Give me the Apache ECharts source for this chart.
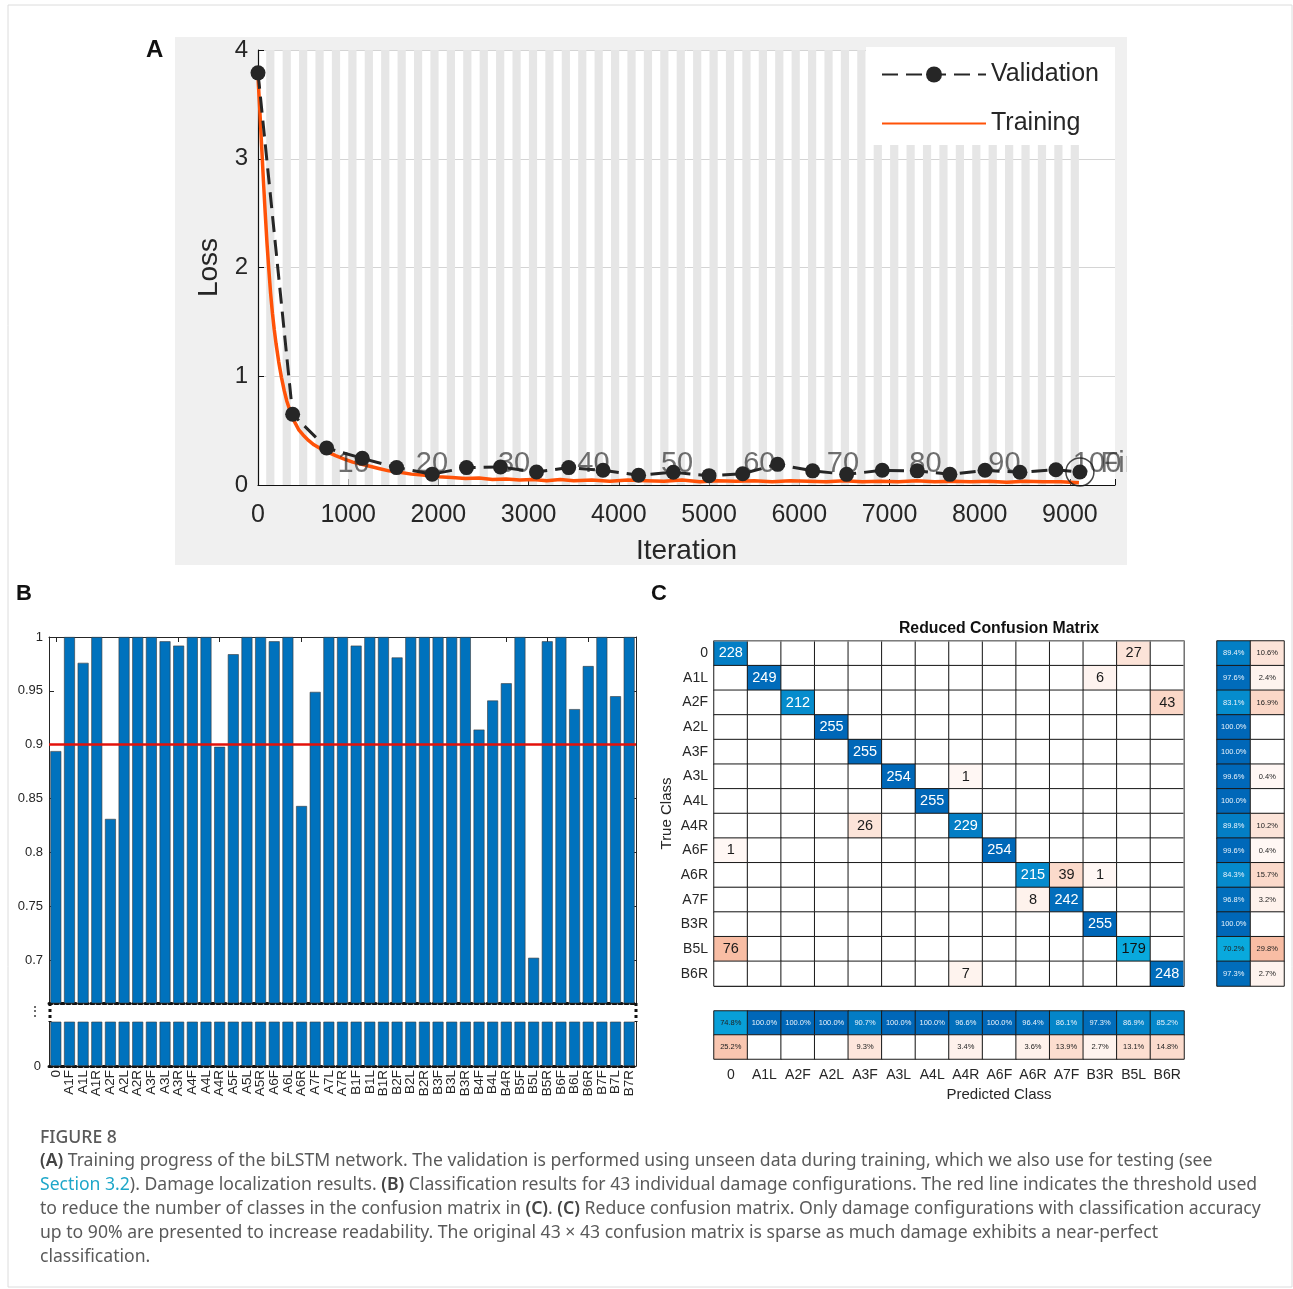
<!DOCTYPE html>
<html>
<head>
<meta charset="utf-8">
<script src="https://cdn.jsdelivr.net/npm/echarts@6/dist/echarts.min.js"></script>
<style>
html, body { margin: 0; padding: 0; background: #fff; }
#chart { width: 1293px; height: 1289px; }
</style>
</head>
<body>
<div id="chart"></div>
<script>
// ---- A: training progress
const valIter = [0, 384, 761, 1156, 1536, 1931, 2311, 2688, 3087, 3444, 3825, 4219, 4604, 5000, 5373, 5760, 6148, 6525, 6920, 7308, 7670, 8059, 8446, 8845, 9111];
const valLoss = [3.79, 0.65, 0.34, 0.245, 0.16, 0.10, 0.16, 0.165, 0.12, 0.16, 0.135, 0.09, 0.117, 0.086, 0.104, 0.19, 0.13, 0.098, 0.135, 0.13, 0.098, 0.135, 0.117, 0.14, 0.12];
const trainIter = [0, 20, 40, 60, 80, 100, 120, 140, 160, 180, 200, 230, 260, 290, 320, 360, 400, 450, 500, 560, 620, 700, 780, 860, 950, 1050, 1150, 1250, 1350, 1450, 1550, 1700, 1850, 2000, 2150, 2300, 2450, 2600, 2750, 2900, 3050, 3200, 3350, 3500, 3700, 3900, 4100, 4300, 4500, 4700, 4900, 5100, 5300, 5500, 5700, 5900, 6100, 6300, 6500, 6700, 6900, 7100, 7300, 7500, 7700, 7900, 8100, 8300, 8500, 8700, 8900, 9100];
const trainLoss = [3.75, 3.45, 3.12, 2.8, 2.5, 2.22, 1.98, 1.76, 1.58, 1.43, 1.3, 1.13, 0.99, 0.87, 0.77, 0.67, 0.59, 0.51, 0.46, 0.41, 0.37, 0.33, 0.3, 0.27, 0.24, 0.21, 0.19, 0.17, 0.15, 0.13, 0.12, 0.1, 0.09, 0.075, 0.07, 0.06, 0.065, 0.05, 0.055, 0.045, 0.05, 0.04, 0.05, 0.04, 0.045, 0.035, 0.045, 0.04, 0.035, 0.045, 0.03, 0.04, 0.035, 0.04, 0.03, 0.04, 0.035, 0.03, 0.04, 0.03, 0.035, 0.03, 0.04, 0.03, 0.035, 0.03, 0.035, 0.025, 0.035, 0.03, 0.03, 0.02];
const itersPerEpoch = 91;
const numEpochs = 100;
const epochLabelIter = [880, 1750, 2660, 3540, 4467, 5379, 6306, 7220, 8095, 9033, 9340];
const epochLabelText = ['10', '20', '30', '40', '50', '60', '70', '80', '90', '100', 'Final'];

// ---- B: per-class accuracy
const classNames = ['0', 'A1F', 'A1L', 'A1R', 'A2F', 'A2L', 'A2R', 'A3F', 'A3L', 'A3R', 'A4F', 'A4L', 'A4R', 'A5F', 'A5L', 'A5R', 'A6F', 'A6L', 'A6R', 'A7F', 'A7L', 'A7R', 'B1F', 'B1L', 'B1R', 'B2F', 'B2L', 'B2R', 'B3F', 'B3L', 'B3R', 'B4F', 'B4L', 'B4R', 'B5F', 'B5L', 'B5R', 'B6F', 'B6L', 'B6R', 'B7F', 'B7L', 'B7R'];
const classAcc = [0.894, 1, 0.976, 1, 0.831, 1, 1, 1, 0.996, 0.992, 1, 1, 0.898, 0.984, 1, 1, 0.996, 1, 0.843, 0.949, 1, 1, 0.992, 1, 1, 0.981, 1, 1, 1, 1, 1, 0.914, 0.941, 0.957, 1, 0.702, 0.996, 1, 0.933, 0.973, 1, 0.945, 1];
const threshold = 0.9;
const accTicks = [0.7, 0.75, 0.8, 0.85, 0.9, 0.95, 1];

// ---- C: reduced confusion matrix
const cmClasses = ['0', 'A1L', 'A2F', 'A2L', 'A3F', 'A3L', 'A4L', 'A4R', 'A6F', 'A6R', 'A7F', 'B3R', 'B5L', 'B6R'];
const cmCounts = [
  [228, 0, 0, 0, 0, 0, 0, 0, 0, 0, 0, 0, 27, 0],
  [0, 249, 0, 0, 0, 0, 0, 0, 0, 0, 0, 6, 0, 0],
  [0, 0, 212, 0, 0, 0, 0, 0, 0, 0, 0, 0, 0, 43],
  [0, 0, 0, 255, 0, 0, 0, 0, 0, 0, 0, 0, 0, 0],
  [0, 0, 0, 0, 255, 0, 0, 0, 0, 0, 0, 0, 0, 0],
  [0, 0, 0, 0, 0, 254, 0, 1, 0, 0, 0, 0, 0, 0],
  [0, 0, 0, 0, 0, 0, 255, 0, 0, 0, 0, 0, 0, 0],
  [0, 0, 0, 0, 26, 0, 0, 229, 0, 0, 0, 0, 0, 0],
  [1, 0, 0, 0, 0, 0, 0, 0, 254, 0, 0, 0, 0, 0],
  [0, 0, 0, 0, 0, 0, 0, 0, 0, 215, 39, 1, 0, 0],
  [0, 0, 0, 0, 0, 0, 0, 0, 0, 8, 242, 0, 0, 0],
  [0, 0, 0, 0, 0, 0, 0, 0, 0, 0, 0, 255, 0, 0],
  [76, 0, 0, 0, 0, 0, 0, 0, 0, 0, 0, 0, 179, 0],
  [0, 0, 0, 0, 0, 0, 0, 7, 0, 0, 0, 0, 0, 248]
];
const rowCorrect = [89.4, 97.6, 83.1, 100, 100, 99.6, 100, 89.8, 99.6, 84.3, 96.8, 100, 70.2, 97.3];
const rowWrong = [10.6, 2.4, 16.9, 0, 0, 0.4, 0, 10.2, 0.4, 15.7, 3.2, 0, 29.8, 2.7];
const colCorrect = [74.8, 100, 100, 100, 90.7, 100, 100, 96.6, 100, 96.4, 86.1, 97.3, 86.9, 85.2];
const colWrong = [25.2, 0, 0, 0, 9.3, 0, 0, 3.4, 0, 3.6, 13.9, 2.7, 13.1, 14.8];

const FONT = '"Liberation Sans", Arial, sans-serif';
const INK = '#262626';

// colour helpers (matlab-like blue / salmon ramps)
function hex2rgb(h) { return [1, 3, 5].map(i => parseInt(h.slice(i, i + 2), 16)); }
function mix(a, b, t) {
  t = Math.max(0, Math.min(1, t));
  const A = hex2rgb(a), B = hex2rgb(b);
  return 'rgb(' + A.map((v, i) => Math.round(v + (B[i] - v) * t)).join(',') + ')';
}
function blueOf(frac) { return mix('#0aaee0', '#0067b8', (frac - 0.68) / 0.32); }
function pinkOf(frac) { return mix('#fff8f5', '#f7b99e', frac / 0.32); }

const chart = echarts.init(document.getElementById('chart'));

// stripes for alternate epochs
const stripes = [];
for (let e = 1; e < numEpochs; e += 2) {
  stripes.push([{ xAxis: e * itersPerEpoch }, { xAxis: (e + 1) * itersPerEpoch }]);
}

// confusion matrix cells
const cmData = [];
cmCounts.forEach((row, r) => {
  const total = row.reduce((s, v) => s + v, 0);
  row.forEach((v, c) => {
    const frac = v / total;
    let color = '#fff', txt = '#1a1a1a';
    if (v > 0 && r === c) {
      color = blueOf(frac);
      txt = frac < 0.75 ? '#111' : '#fff';
    } else if (v > 0) {
      color = pinkOf(frac);
    }
    cmData.push({ value: [c, r, v], itemStyle: { color: color }, label: { color: txt } });
  });
});

function summaryCell(x, y, p, good) {
  let color = '#fff', txt = '#222';
  if (p > 0) {
    if (good) {
      color = blueOf(p / 100);
      txt = p < 76 ? '#222' : '#e8f2fa';
    } else {
      color = pinkOf(p / 100);
    }
  }
  return { value: [x, y, p], itemStyle: { color: color }, label: { color: txt } };
}
const rowSumData = [];
const colSumData = [];
cmClasses.forEach((n, i) => {
  rowSumData.push(summaryCell(0, i, rowCorrect[i], true));
  rowSumData.push(summaryCell(1, i, rowWrong[i], false));
  colSumData.push(summaryCell(i, 0, colCorrect[i], true));
  colSumData.push(summaryCell(i, 1, colWrong[i], false));
});
const pctFmt = p => (p.value[2] > 0 ? p.value[2].toFixed(1) + '%' : '');

const dotted = { show: true, lineStyle: { color: '#111', width: 3, type: [3, 3] } };
const solid = { show: true, lineStyle: { color: INK, width: 1 } };

const caption = [
  '{b|(A)} Training progress of the biLSTM network. The validation is performed using unseen data during training, which we also use for testing (see',
  '{l|Section 3.2}). Damage localization results. {b|(B)} Classification results for 43 individual damage configurations. The red line indicates the threshold used',
  'to reduce the number of classes in the confusion matrix in {b|(C)}. {b|(C)} Reduce confusion matrix. Only damage configurations with classification accuracy',
  'up to 90% are presented to increase readability. The original 43 × 43 confusion matrix is sparse as much damage exhibits a near-perfect',
  'classification.'
];
const captionFont = '17.6px "Noto Sans", sans-serif';
const captionEls = caption.map((t, i) => ({
  type: 'text', x: 40, y: 1161 + i * 24, z: 10,
  style: {
    text: t, font: captionFont, fill: '#5a5a5a', verticalAlign: 'middle',
    rich: {
      b: { font: '600 17.6px "Noto Sans", sans-serif', fill: '#444' },
      l: { font: captionFont, fill: '#1ea7c9' }
    }
  }
}));

const option = {
  animation: false,
  textStyle: { fontFamily: FONT },
  graphic: [
    { type: 'rect', z: -20, shape: { x: 8, y: 5, width: 1284, height: 1282 }, style: { fill: '#fff', stroke: '#dcdcdc', lineWidth: 1 } },
    { type: 'rect', z: -10, shape: { x: 175, y: 37, width: 952, height: 528 }, style: { fill: '#f0f0f0' } },
    { type: 'rect', z: 3, shape: { x: 866, y: 47, width: 249, height: 98 }, style: { fill: '#fff' } },
    { type: 'rect', z: 100, shape: { x: 1127, y: 430, width: 40, height: 70 }, style: { fill: '#fff' } },
    { type: 'text', x: 146, y: 50, z: 10, style: { text: 'A', font: 'bold 24px ' + FONT, fill: '#111', verticalAlign: 'middle' } },
    { type: 'text', x: 16, y: 594, z: 10, style: { text: 'B', font: 'bold 22px ' + FONT, fill: '#111', verticalAlign: 'middle' } },
    { type: 'text', x: 651, y: 594, z: 10, style: { text: 'C', font: 'bold 22px ' + FONT, fill: '#111', verticalAlign: 'middle' } },
    { type: 'text', x: 35, y: 1012, z: 10, style: { text: '⋮', font: '14px ' + FONT, fill: '#333', align: 'center', verticalAlign: 'middle' } },
    { type: 'line', z: 10, shape: { x1: 50, y1: 1003, x2: 50, y2: 1022 }, style: { stroke: '#111', lineWidth: 3, lineDash: [3, 3] } },
    { type: 'line', z: 10, shape: { x1: 636, y1: 1003, x2: 636, y2: 1022 }, style: { stroke: '#111', lineWidth: 3, lineDash: [3, 3] } },
    { type: 'polyline', z: 10, shape: { points: [[714, 641], [1184, 641], [1184, 986]] }, style: { stroke: '#a8a8a8', lineWidth: 1.2, fill: null } },
    { type: 'text', x: 999, y: 629, z: 10, style: { text: 'Reduced Confusion Matrix', font: 'bold 15.8px ' + FONT, fill: '#111', align: 'center', verticalAlign: 'middle' } },
    { type: 'text', x: 999, y: 1095, z: 10, style: { text: 'Predicted Class', font: '15px ' + FONT, fill: INK, align: 'center', verticalAlign: 'middle' } },
    { type: 'text', x: 40, y: 1138, z: 10, style: { text: 'FIGURE 8', font: '500 17.6px "Noto Sans", sans-serif', fill: '#5a5a5a', verticalAlign: 'middle' } }
  ].concat(captionEls),
  legend: {
    data: ['Validation', { name: 'Training', itemStyle: { opacity: 0 } }],
    orient: 'vertical',
    left: 876, top: 57,
    itemWidth: 104, itemHeight: 20, itemGap: 24,
    textStyle: { fontSize: 25, color: INK, fontFamily: FONT }
  },
  grid: [
    { left: 258, top: 50, width: 857, height: 435, show: true, backgroundColor: '#fff', borderWidth: 0 },
    { left: 49, top: 637, width: 587, height: 366 },
    { left: 49, top: 1022, width: 587, height: 44 },
    { left: 714, top: 641, width: 470, height: 345 },
    { left: 1217, top: 641, width: 67, height: 345 },
    { left: 714, top: 1011, width: 470, height: 48 }
  ],
  xAxis: [
    {
      gridIndex: 0, type: 'value', min: 0, max: 9500, interval: 1000,
      name: 'Iteration', nameLocation: 'middle', nameGap: 52,
      nameTextStyle: { fontSize: 28, color: INK },
      axisLine: { show: true, lineStyle: { color: '#111', width: 1.2 } },
      axisTick: { show: true, inside: true, length: 6, lineStyle: { color: '#111' } },
      axisLabel: { fontSize: 25, color: INK, margin: 18, formatter: v => (v > 9000 ? '' : v) },
      splitLine: { show: false }
    },
    {
      gridIndex: 1, type: 'category', data: classNames, position: 'bottom',
      axisLine: dotted, axisTick: { show: false }, axisLabel: { show: false }
    },
    {
      gridIndex: 1, type: 'category', data: classNames, position: 'top',
      axisLine: solid, axisTick: { show: true, inside: true, alignWithLabel: true, length: 5, lineStyle: { color: INK } },
      axisLabel: { show: false }
    },
    {
      gridIndex: 2, type: 'category', data: classNames, position: 'bottom',
      axisLine: solid, axisTick: { show: true, inside: true, alignWithLabel: true, length: 5, lineStyle: { color: INK } },
      axisLabel: { rotate: 90, fontSize: 13.5, color: INK, margin: 4, interval: 0 }
    },
    {
      gridIndex: 2, type: 'category', data: classNames, position: 'top',
      axisLine: dotted, axisTick: { show: false }, axisLabel: { show: false }
    },
    {
      gridIndex: 3, type: 'category', data: cmClasses,
      axisLine: { show: false }, axisTick: { show: false }, axisLabel: { show: false },
      splitLine: { show: true, lineStyle: { color: '#1a1a1a', width: 1 } }
    },
    {
      gridIndex: 4, type: 'category', data: ['correct', 'wrong'],
      axisLine: { show: false }, axisTick: { show: false }, axisLabel: { show: false }
    },
    {
      gridIndex: 5, type: 'category', data: cmClasses,
      axisLine: { show: false }, axisTick: { show: false },
      axisLabel: { fontSize: 14, color: INK, margin: 9, interval: 0 }
    }
  ],
  yAxis: [
    {
      gridIndex: 0, type: 'value', min: 0, max: 4, interval: 1,
      name: 'Loss', nameLocation: 'middle', nameGap: 34, nameRotate: 90,
      nameTextStyle: { fontSize: 28, color: INK },
      axisLine: { show: true, lineStyle: { color: '#111', width: 1.2 } },
      axisTick: { show: true, inside: true, length: 6, lineStyle: { color: '#111' } },
      axisLabel: { fontSize: 24, color: INK, margin: 10 },
      splitLine: { show: true, lineStyle: { color: '#d4d4d4', width: 1 } }
    },
    {
      gridIndex: 1, type: 'value', min: 0.66, max: 1, position: 'left',
      axisLine: solid,
      axisTick: { show: true, inside: true, length: 5, customValues: accTicks, lineStyle: { color: INK } },
      axisLabel: { fontSize: 13, color: INK, margin: 6, customValues: accTicks },
      splitLine: { show: false }
    },
    {
      gridIndex: 1, type: 'value', min: 0.66, max: 1, position: 'right',
      axisLine: solid,
      axisTick: { show: true, inside: true, length: 5, customValues: accTicks, lineStyle: { color: INK } },
      axisLabel: { show: false }, splitLine: { show: false }
    },
    {
      gridIndex: 2, type: 'value', min: 0, max: 0.04, position: 'left',
      axisLine: solid,
      axisTick: { show: false },
      axisLabel: { fontSize: 13, color: INK, margin: 8, customValues: [0] },
      splitLine: { show: false }
    },
    {
      gridIndex: 2, type: 'value', min: 0, max: 0.04, position: 'right',
      axisLine: solid, axisTick: { show: false }, axisLabel: { show: false }, splitLine: { show: false }
    },
    {
      gridIndex: 3, type: 'category', data: cmClasses, inverse: true,
      name: 'True Class', nameLocation: 'middle', nameGap: 40, nameRotate: 90,
      nameTextStyle: { fontSize: 15, color: INK },
      axisLine: { show: false }, axisTick: { show: false },
      axisLabel: { fontSize: 14, color: INK, margin: 6, interval: 0 },
      splitLine: { show: true, lineStyle: { color: '#1a1a1a', width: 1 } }
    },
    {
      gridIndex: 4, type: 'category', data: cmClasses, inverse: true,
      axisLine: { show: false }, axisTick: { show: false }, axisLabel: { show: false }
    },
    {
      gridIndex: 5, type: 'category', data: ['correct', 'wrong'], inverse: true,
      axisLine: { show: false }, axisTick: { show: false }, axisLabel: { show: false }
    }
  ],
  series: [
    {
      name: 'Training', type: 'line', xAxisIndex: 0, yAxisIndex: 0, z: 3,
      data: trainIter.map((x, i) => [x, trainLoss[i]]),
      symbol: 'none', color: '#ff5208',
      lineStyle: { color: '#ff5208', width: 3.5 },
      markArea: { silent: true, z: 1, itemStyle: { color: '#e6e6e6' }, data: stripes }
    },
    {
      name: 'Validation', type: 'line', xAxisIndex: 0, yAxisIndex: 0, z: 6,
      data: valIter.map((x, i) => [x, valLoss[i]]),
      symbol: 'circle', symbolSize: 15, color: '#262626',
      itemStyle: { color: '#262626' },
      lineStyle: { color: '#262626', width: 3, type: [16, 8] }
    },
    {
      name: 'epochs', type: 'scatter', xAxisIndex: 0, yAxisIndex: 0, z: 4,
      data: epochLabelIter.map((x, i) => [x, 0.19]),
      symbolSize: 0, silent: true,
      label: {
        show: true, position: 'right', distance: 0,
        formatter: p => epochLabelText[p.dataIndex],
        fontSize: 29, color: 'rgba(45,45,45,0.85)', fontFamily: FONT
      }
    },
    {
      name: 'final', type: 'scatter', xAxisIndex: 0, yAxisIndex: 0, z: 7,
      data: [[valIter[valIter.length - 1], valLoss[valLoss.length - 1]]],
      symbolSize: 28, silent: true,
      itemStyle: { color: 'rgba(0,0,0,0)', borderColor: '#1a1a1a', borderWidth: 1.5 }
    },
    {
      name: 'acc', type: 'bar', xAxisIndex: 1, yAxisIndex: 1, data: classAcc,
      barWidth: '80%', clip: true,
      itemStyle: { color: '#0072bd', borderColor: '#3a3a3a', borderWidth: 0.6 },
      markLine: {
        silent: true, symbol: 'none', label: { show: false },
        lineStyle: { color: '#e3120b', width: 2.5, type: 'solid' },
        data: [{ yAxis: threshold }]
      }
    },
    {
      name: 'accLow', type: 'bar', xAxisIndex: 3, yAxisIndex: 3, data: classAcc,
      barWidth: '80%', clip: true,
      itemStyle: { color: '#0072bd', borderColor: '#3a3a3a', borderWidth: 0.6 }
    },
    {
      name: 'cm', type: 'heatmap', xAxisIndex: 5, yAxisIndex: 5, data: cmData,
      itemStyle: { borderColor: '#1a1a1a', borderWidth: 1 },
      label: { show: true, fontSize: 14.5, fontFamily: FONT, formatter: p => (p.value[2] > 0 ? p.value[2] : '') },
      emphasis: { disabled: true }
    },
    {
      name: 'rowSum', type: 'heatmap', xAxisIndex: 6, yAxisIndex: 6, data: rowSumData,
      itemStyle: { borderColor: '#1a1a1a', borderWidth: 1 },
      label: { show: true, fontSize: 7.5, fontFamily: FONT, formatter: pctFmt },
      emphasis: { disabled: true }
    },
    {
      name: 'colSum', type: 'heatmap', xAxisIndex: 7, yAxisIndex: 7, data: colSumData,
      itemStyle: { borderColor: '#1a1a1a', borderWidth: 1 },
      label: { show: true, fontSize: 7.5, fontFamily: FONT, formatter: pctFmt },
      emphasis: { disabled: true }
    }
  ]
};

chart.setOption(option);
</script>
</body>
</html>
